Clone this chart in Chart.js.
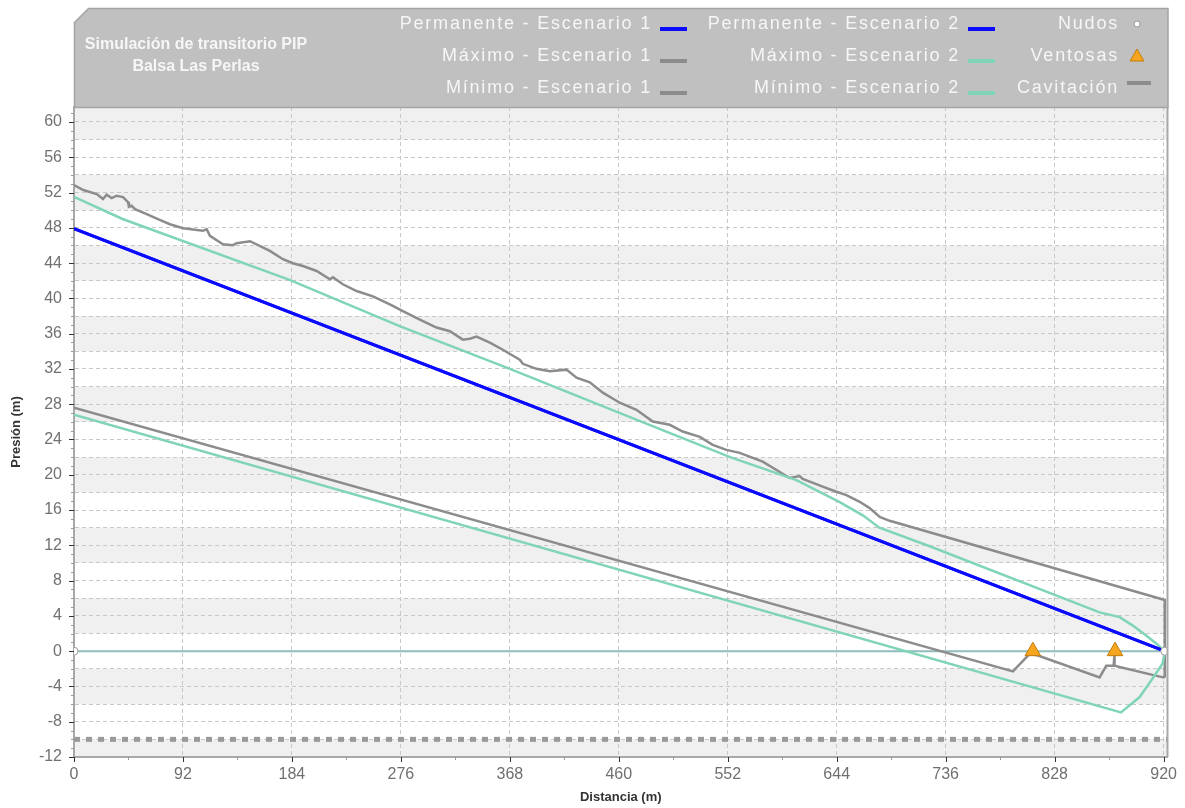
<!DOCTYPE html>
<html lang="es">
<head>
<meta charset="UTF-8">
<title>Simulación de transitorio PIP - Balsa Las Perlas</title>
<script src="https://cdn.jsdelivr.net/npm/chart.js"></script>
<style>
  html, body { margin: 0; padding: 0; background: #fff; }
  canvas { display: block; }
</style>
</head>
<body>
<canvas id="grafico" width="1185" height="808"></canvas>
<script>
// Distancia (m) / Presión (m)
const permX = [0, 921];
const permY = [47.9, 0];

const maxE1X = [0, 7.8, 19.2, 24.5, 27.6, 31.8, 36.0, 41.4, 45.6, 46.4, 48.7, 51.5, 61.4, 70.9, 81.0,
  92.0, 108.9, 112.0, 114.8, 125.8, 134.2, 137.3, 148.6, 165.4, 176.4, 184.8, 193.3, 204.9, 213.3, 216.1,
  218.6, 227.0, 238.6, 252.4, 266.7, 277.7, 292.0, 306.1, 317.4, 328.3, 334.2, 339.9, 351.1, 362.1, 376.4,
  379.0, 390.5, 401.8, 415.8, 424.3, 435.5, 446.5, 460.8, 474.9, 488.7, 503.0, 514.0, 528.4, 539.3, 550.9,
  562.1, 581.5, 604.3, 612.8, 615.3, 632.2, 643.7, 652.2, 663.4, 671.8, 680.3, 688.7, 921, 921];
const maxE1Y = [52.85, 52.29, 51.83, 51.26, 51.75, 51.38, 51.64, 51.49, 50.92, 50.39, 50.50, 50.12, 49.55, 48.98, 48.41,
  47.96, 47.66, 47.85, 47.09, 46.14, 46.03, 46.26, 46.48, 45.38, 44.44, 43.98, 43.67, 43.11, 42.39, 42.16,
  42.39, 41.60, 40.83, 40.23, 39.32, 38.55, 37.60, 36.69, 36.28, 35.32, 35.43, 35.66, 34.98, 34.18, 33.04,
  32.58, 32.01, 31.73, 31.92, 31.01, 30.48, 29.31, 28.17, 27.37, 26.04, 25.67, 24.90, 24.30, 23.39, 22.82,
  22.48, 21.49, 19.63, 19.86, 19.52, 18.65, 18.08, 17.70, 16.94, 16.22, 15.23, 14.78, 5.8, -3.0];

const maxE2X = [0, 41, 182, 275, 368, 461, 554, 610, 646.5, 666, 680, 722.5, 866, 883, 894, 905, 914, 921];
const maxE2Y = [51.5, 49.0, 42.1, 36.85, 32.0, 27.0, 22.0, 19.4, 16.9, 15.4, 14.0, 11.9, 4.4, 3.86, 2.9, 1.8, 0.85, 0];

const minE1X = [0, 792.8, 806.9, 813.9, 866, 871.6, 877.8, 878.6, 878.6, 882.8, 919.4, 921];
const minE1Y = [27.6, -2.3, -0.3, -0.5, -2.97, -1.64, -1.64, -0.3, -1.64, -1.8, -2.97, -2.97];

const minE2X = [0, 884, 899.8, 910.7, 919.2, 921];
const minE2Y = [26.8, -6.95, -5.2, -3.1, -1.4, 0];

const perfilX = [0, 921];
const perfilY = [0, 0];
const cavX = [0, 923];
const cavY = [-10, -10];
const nudosX = [0, 921];
const nudosY = [0, 0];
const ventX = [809.6, 879];
const ventY = [0, 0];

const xLabels = [0, 92, 184, 276, 368, 460, 552, 644, 736, 828, 920];
const yLabels = [-12, -8, -4, 0, 4, 8, 12, 16, 20, 24, 28, 32, 36, 40, 44, 48, 52, 56, 60];

const AZUL = '#0a0aff', GRIS = '#8c8c8c', VERDE = '#7fd5b6';
const FONT = '"Liberation Sans", Arial, sans-serif';

const pts = (xs, ys) => xs.map((x, i) => ({ x: x, y: ys[i] }));

function serie(label, xs, ys, color, width, extra) {
  return Object.assign({
    label: label, data: pts(xs, ys), borderColor: color, borderWidth: width,
    pointRadius: 0, fill: false, tension: 0
  }, extra || {});
}

// fondo con bandas, marcos, ticks, caja de título y leyenda
const decor = {
  id: 'decor',
  beforeDraw(chart) {
    const { ctx, chartArea: a, scales: { y } } = chart;
    ctx.save();
    ctx.fillStyle = '#fff';
    ctx.fillRect(a.left, a.top, a.right - a.left, a.bottom - a.top);
    ctx.fillStyle = '#f0f0f0';
    for (let k = -3; k < 9; k++) {
      const lo = Math.max(8 * k + 2, y.min), hi = Math.min(8 * k + 6, y.max);
      if (hi <= lo) continue;
      const p1 = y.getPixelForValue(hi), p2 = y.getPixelForValue(lo);
      ctx.fillRect(a.left, p1, a.right - a.left, p2 - p1);
    }
    ctx.restore();
  },
  afterDraw(chart) {
    const { ctx, chartArea: a, scales: { x, y } } = chart;
    ctx.save();
    // borde derecho
    ctx.strokeStyle = '#a8a8a8';
    ctx.lineWidth = 2;
    ctx.beginPath();
    ctx.moveTo(a.right, a.top); ctx.lineTo(a.right, a.bottom);
    ctx.stroke();
    // ticks eje y
    ctx.lineWidth = 1;
    for (let v = -12; v <= 61; v++) {
      const py = Math.round(y.getPixelForValue(v)) + 0.5;
      const major = v % 4 === 0;
      ctx.strokeStyle = major ? '#333' : '#999';
      ctx.beginPath();
      ctx.moveTo(a.left - (major ? 5 : 3), py); ctx.lineTo(a.left, py);
      ctx.stroke();
    }
    // ticks eje x
    for (let v = 0; v <= 920; v += 46) {
      const px = Math.round(x.getPixelForValue(v)) + 0.5;
      const major = v % 92 === 0;
      ctx.strokeStyle = major ? '#333' : '#999';
      ctx.beginPath();
      ctx.moveTo(px, a.bottom); ctx.lineTo(px, a.bottom + (major ? 5 : 3));
      ctx.stroke();
    }
    // caja del título
    const L = a.left + 0.5, R = a.right + 0.5, T = 8.5, B = a.top + 0.5;
    ctx.beginPath();
    ctx.moveTo(L, T + 14); ctx.lineTo(L + 14, T); ctx.lineTo(R, T); ctx.lineTo(R, B); ctx.lineTo(L, B);
    ctx.closePath();
    ctx.fillStyle = '#c0c0c0';
    ctx.fill();
    ctx.strokeStyle = '#a4a4a4';
    ctx.lineWidth = 1.5;
    ctx.stroke();

    ctx.fillStyle = '#f6f6f6';
    ctx.font = 'bold 16px ' + FONT;
    ctx.textAlign = 'center';
    ctx.textBaseline = 'middle';
    ctx.fillText('Simulación de transitorio PIP', 196, 45);
    ctx.fillText('Balsa Las Perlas', 196, 67);

    // leyenda
    ctx.font = '18px ' + FONT;
    ctx.letterSpacing = '1.8px';
    ctx.textAlign = 'right';
    const filas = [24, 56, 88];
    const items = [
      [652, 0, 'Permanente - Escenario 1', 'line', AZUL],
      [652, 1, 'Máximo - Escenario 1', 'line', GRIS],
      [652, 2, 'Mínimo - Escenario 1', 'line', GRIS],
      [960, 0, 'Permanente - Escenario 2', 'line', AZUL],
      [960, 1, 'Máximo - Escenario 2', 'line', VERDE],
      [960, 2, 'Mínimo - Escenario 2', 'line', VERDE],
      [1119, 0, 'Nudos', 'circle'],
      [1119, 1, 'Ventosas', 'tri'],
      [1119, 2, 'Cavitación', 'cav']
    ];
    items.forEach(([xr, f, txt, tipo, col]) => {
      const cy = filas[f];
      ctx.fillStyle = '#f6f6f6';
      ctx.fillText(txt, xr, cy);
      if (tipo === 'line') {
        ctx.strokeStyle = col; ctx.lineWidth = 4;
        ctx.beginPath(); ctx.moveTo(xr + 8, cy + 5); ctx.lineTo(xr + 35, cy + 5); ctx.stroke();
      } else if (tipo === 'circle') {
        ctx.fillStyle = '#fff'; ctx.strokeStyle = '#999'; ctx.lineWidth = 1;
        ctx.beginPath(); ctx.arc(xr + 18, cy, 3, 0, Math.PI * 2); ctx.fill(); ctx.stroke();
      } else if (tipo === 'tri') {
        ctx.fillStyle = '#f5a51e'; ctx.strokeStyle = '#c47c0a'; ctx.lineWidth = 1;
        ctx.beginPath(); ctx.moveTo(xr + 18, cy - 7); ctx.lineTo(xr + 25, cy + 5); ctx.lineTo(xr + 11, cy + 5);
        ctx.closePath(); ctx.fill(); ctx.stroke();
      } else {
        ctx.strokeStyle = GRIS; ctx.lineWidth = 4;
        ctx.beginPath(); ctx.moveTo(xr + 8, cy - 5); ctx.lineTo(xr + 32, cy - 5); ctx.stroke();
      }
    });
    ctx.letterSpacing = '0px';
    ctx.restore();
  }
};

const ctx = document.getElementById('grafico').getContext('2d');
new Chart(ctx, {
  type: 'line',
  data: {
    datasets: [
      serie('Ventosas', ventX, ventY, '#c47c0a', 1, {
        showLine: false, pointStyle: 'triangle', pointRadius: 9,
        pointBackgroundColor: '#f5a51e', pointBorderColor: '#c47c0a', pointBorderWidth: 1
      }),
      serie('Nudos', nudosX, nudosY, '#999', 1, {
        showLine: false, pointStyle: 'circle', pointRadius: 4,
        pointBackgroundColor: '#fff', pointBorderColor: '#a0a0a0', pointBorderWidth: 1
      }),
      serie('Permanente - Escenario 2', permX, permY, AZUL, 3),
      serie('Permanente - Escenario 1', permX, permY, AZUL, 3),
      serie('Máximo - Escenario 2', maxE2X, maxE2Y, VERDE, 2.5),
      serie('Mínimo - Escenario 2', minE2X, minE2Y, VERDE, 2.5),
      serie('Máximo - Escenario 1', maxE1X, maxE1Y, GRIS, 2.5),
      serie('Mínimo - Escenario 1', minE1X, minE1Y, GRIS, 2.5),
      serie('Perfil', perfilX, perfilY, '#8fbcbc', 2),
      serie('Cavitación', cavX, cavY, '#9a9a9a', 5, { borderDash: [6, 6] })
    ]
  },
  options: {
    responsive: false,
    animation: false,
    layout: { padding: { top: 107, right: 17, left: 0, bottom: 0 } },
    plugins: { legend: { display: false }, tooltip: { enabled: false } },
    scales: {
      x: {
        type: 'linear', min: 0, max: 923.3,
        afterFit: s => { s.height = 51; },
        afterBuildTicks: s => { s.ticks = xLabels.map(v => ({ value: v })); },
        ticks: {
          padding: 8, color: '#707070', maxRotation: 0, autoSkip: false,
          font: { family: FONT, size: 16 }
        },
        grid: {
          drawTicks: false,
          color: c => (c.tick && c.tick.value > 0) ? '#c8c8c8' : 'transparent',
          lineWidth: 1
        },
        border: { color: '#a8a8a8', width: 2, dash: [4, 3] },
        title: {
          display: true, text: 'Distancia (m)', color: '#333',
          font: { family: FONT, size: 13, weight: 'bold' }, padding: { top: 0, bottom: 3 }
        }
      },
      y: {
        type: 'linear', min: -12, max: 61.7,
        afterFit: s => { s.width = 74; },
        afterBuildTicks: s => {
          const t = [];
          for (let v = -12; v <= 60; v += 2) t.push({ value: v });
          s.ticks = t;
        },
        ticks: {
          padding: 12, color: '#707070', autoSkip: false,
          font: { family: FONT, size: 16 },
          callback: v => yLabels.includes(v) ? String(v) : ''
        },
        grid: {
          drawTicks: false,
          color: c => (c.tick && c.tick.value > -12) ? '#c8c8c8' : 'transparent',
          lineWidth: 1
        },
        border: { color: '#a8a8a8', width: 2, dash: [4, 3] },
        title: {
          display: true, text: 'Presión (m)', color: '#333',
          font: { family: FONT, size: 13, weight: 'bold' }, padding: { top: 9, bottom: 0 }
        }
      }
    }
  },
  plugins: [decor]
});
</script>
</body>
</html>
